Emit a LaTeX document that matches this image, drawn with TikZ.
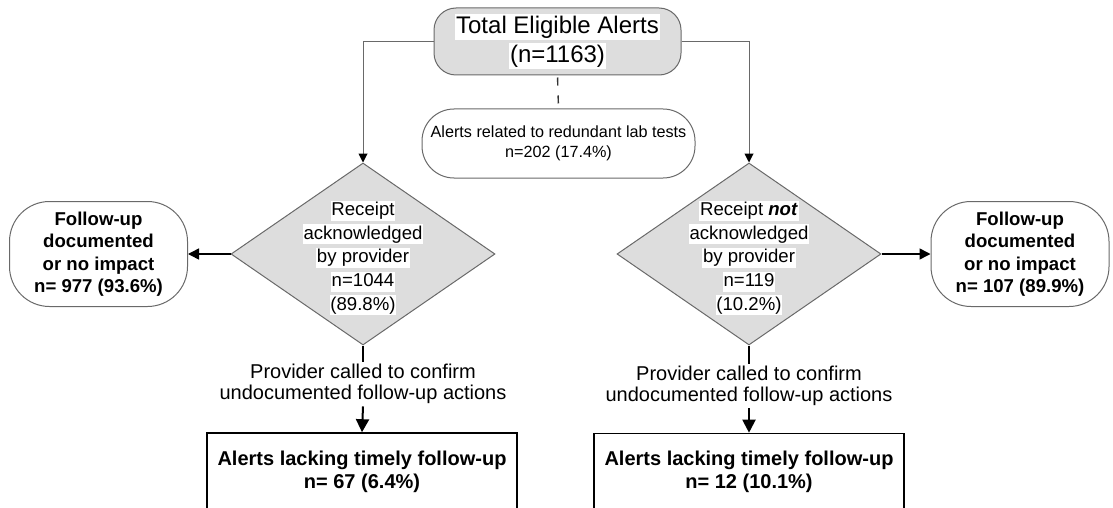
\documentclass[tikz,border=0pt]{standalone}
\usepackage{fontspec}
\setmainfont{Liberation Sans}
\usetikzlibrary{arrows.meta,shapes.geometric}

\definecolor{shapegray}{RGB}{221,221,221}
\definecolor{linegray}{RGB}{105,105,105}

% white highlight behind text in the gray shapes
\newcommand{\hl}[1]{{\setlength{\fboxsep}{0.4pt}\colorbox{white}{\rule[-0.23em]{0pt}{0.98em}#1}}}

\tikzset{
    startbox/.style={draw=linegray, fill=shapegray, line width=0.5pt, rounded corners=11pt,
        minimum width=123.5pt, minimum height=33.5pt, inner sep=0pt, align=center,
        font={\fontsize{12}{14.5}\selectfont}},
    excludebox/.style={draw=linegray, line width=0.5pt, rounded corners=16pt,
        minimum width=136.5pt, minimum height=34.5pt, inner sep=0pt, align=center,
        font={\fontsize{8.1}{10}\selectfont}},
    decision/.style={diamond, draw=linegray, fill=shapegray, line width=0.5pt,
        minimum width=132pt, minimum height=91pt, inner sep=0pt},
    decisiontext/.style={inner sep=0pt, align=center, font={\fontsize{9.3}{11.8}\selectfont}},
    fubox/.style={draw=linegray, line width=0.5pt, rounded corners=20pt,
        minimum width=89pt, minimum height=52.5pt, inner sep=0pt, align=center,
        font={\bfseries\fontsize{9.3}{11.2}\selectfont}},
    calltext/.style={inner sep=1pt, align=center, font={\fontsize{10}{10.75}\selectfont}},
    lackbox/.style={draw=black, line width=0.8pt, minimum width=155pt, minimum height=38.5pt,
        inner sep=0pt, align=center, font={\bfseries\fontsize{10}{11.5}\selectfont}},
    conn/.style={draw=linegray, line width=0.5pt, -{Triangle[length=4.5pt, width=4.5pt, color=black]}},
    dashconn/.style={draw=black!80, line width=0.7pt, dash pattern=on 4pt off 5pt, shorten <=1pt},
    sidearrow/.style={draw=black, line width=0.75pt, -{Triangle[length=5.5pt, width=5.5pt]}},
    stem/.style={draw=black, line width=1pt},
    stemarrow/.style={stem, -{Triangle[length=6.5pt, width=6.5pt]}}
}

\begin{document}
\begin{tikzpicture}[x=0.5pt, y=-0.5pt]
    \useasboundingbox (0, 0) rectangle (1113, 508);

    % top
    \node[startbox] (total) at (557.5, 41.5) {\hl{Total Eligible Alerts}\\ \hl{(n=1163)}};
    \node[excludebox] (redund) at (558.5, 143.5) {Alerts related to redundant lab tests\\ n=202 (17.4\%)};

    % decisions
    \node[decision] (ack) at (363, 254) {};
    \node[decisiontext] (ackText) at (363, 258) {\hl{Receipt}\\ \hl{acknowledged}\\ \hl{by provider}\\ \hl{n=1044}\\ \hl{(89.8\%)}};
    \node[decision] (nack) at (749, 254) {};
    \node[decisiontext] (nackText) at (749, 258) {\hl{Receipt \textbf{\textit{not}}}\\ \hl{acknowledged}\\ \hl{by provider}\\ \hl{n=119}\\ \hl{(10.2\%)}};

    % follow-up boxes
    \node[fubox] (ackFu) at (98.5, 254) {Follow-up\\ documented\\ or no impact\\ n= 977 (93.6\%)};
    \node[fubox] (nackFu) at (1020, 254) {Follow-up\\ documented\\ or no impact\\ n= 107 (89.9\%)};

    % provider called
    \node[calltext] (ackCall) at (363, 384) {Provider called to confirm\\ undocumented follow-up actions};
    \node[calltext] (nackCall) at (749, 386) {Provider called to confirm\\ undocumented follow-up actions};

    % lacking follow-up
    \node[lackbox] (ackLack) at (362, 471.5) {Alerts lacking timely follow-up\\ n= 67 (6.4\%)};
    \node[lackbox] (nackLack) at (749, 472) {Alerts lacking timely follow-up\\ n= 12 (10.1\%)};

    % connectors
    \draw[conn] (total.west) -| (ack.north);
    \draw[conn] (total.east) -| (nack.north);
    \draw[dashconn] (total.south) -- (redund.north);
    \draw[sidearrow] (ack.west) -- (ackFu.east);
    \draw[sidearrow] (nack.east) -- (nackFu.west);
    \draw[stem] (ack.south) -- (ackCall.north);
    \draw[stem] (nack.south) -- (nackCall.north);
    \draw[stemarrow] (ackCall.south) -- (ackLack.north);
    \draw[stemarrow] (nackCall.south) -- (nackLack.north);
\end{tikzpicture}
\end{document}
